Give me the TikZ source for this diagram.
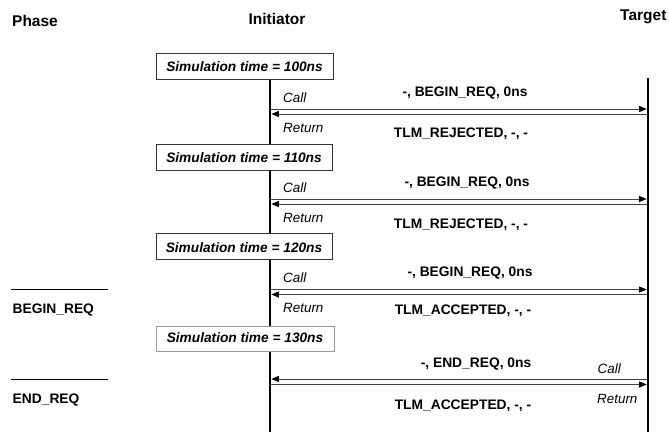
\documentclass[tikz,border=0pt]{standalone}
\usepackage{fontspec}
\setmainfont{Liberation Sans}
\usetikzlibrary{arrows.meta}
\begin{document}
\begin{tikzpicture}[x=1pt,y=-1pt,
  head/.style={font=\bfseries\fontsize{15.5}{18}\selectfont, inner sep=0pt, anchor=base},
  lbl/.style={font=\bfseries\fontsize{13.8}{16}\selectfont, inner sep=0pt, anchor=base},
  io/.style={font=\itshape\fontsize{13.4}{16}\selectfont, inner sep=0pt, anchor=base west},
  simbox/.style={draw=black!80, line width=0.8pt, fill=white},
  simtext/.style={font=\bfseries\itshape\fontsize{13.7}{16}\selectfont, inner sep=0pt, anchor=base},
  life/.style={line width=2.5pt},
  msg/.style={draw=black!75, line width=0.9pt, -{Triangle[length=7.5pt,width=6pt,color=black]}},
  phaseline/.style={line width=0.8pt}]
\useasboundingbox (0,0) rectangle (669,432);

% column headings
\node[head] (phase) at (35,26) {Phase};
\node[head] (init) at (277,24) {Initiator};
\node[head, anchor=base west] (targ) at (620,20) {Target};

% lifelines
\coordinate (iTop) at (270,79);
\coordinate (iBot) at (270,432);
\coordinate (tTop) at (648,78);
\coordinate (tBot) at (648,432);
\draw[life] (iTop) -- (iBot);
\draw[life] (tTop) -- (tBot);

% simulation time boxes
\draw[simbox] (156,53) rectangle (333,79);
\node[simtext] (s100) at (244.5,71) {Simulation time = 100ns};
\draw[simbox] (156,144) rectangle (332,170);
\node[simtext] (s110) at (244,162) {Simulation time = 110ns};
\draw[simbox] (156,233.5) rectangle (332,259.5);
\node[simtext] (s120) at (244,252) {Simulation time = 120ns};
\draw[simbox, draw=black!40] (156,326) rectangle (334,351);
\node[simtext] (s130) at (245,342.5) {Simulation time = 130ns};

% message end points on the lifelines
\foreach \n/\y in {c1/109, r1/114, c2/199, r2/204, c3/289.5, r3/294.5, r4/379, c4/384.5} {
  \coordinate (i\n) at (271.3,\y);
  \coordinate (t\n) at (646.7,\y);
}

% 100ns: rejected
\draw[msg] (ic1) -- (tc1);
\draw[msg] (tr1) -- (ir1);
\node[io] (call1) at (283,102) {Call};
\node[io] (ret1) at (283,132) {Return};
\node[lbl] (m1) at (465,96) {-, BEGIN\_REQ, 0ns};
\node[lbl] (a1) at (461,137) {TLM\_REJECTED, -, -};

% 110ns: rejected
\draw[msg] (ic2) -- (tc2);
\draw[msg] (tr2) -- (ir2);
\node[io] (call2) at (283,192.5) {Call};
\node[io] (ret2) at (283,222) {Return};
\node[lbl] (m2) at (467,186) {-, BEGIN\_REQ, 0ns};
\node[lbl] (a2) at (461,228) {TLM\_REJECTED, -, -};

% 120ns: accepted
\draw[msg] (ic3) -- (tc3);
\draw[msg] (tr3) -- (ir3);
\node[io] (call3) at (283,282.5) {Call};
\node[io] (ret3) at (283,312.7) {Return};
\node[lbl] (m3) at (470,276) {-, BEGIN\_REQ, 0ns};
\node[lbl] (a3) at (463,314) {TLM\_ACCEPTED, -, -};

% 130ns: backward path from target
\draw[msg] (tr4) -- (ir4);
\draw[msg] (ic4) -- (tc4);
\node[io] (call4) at (597.5,373) {Call};
\node[io] (ret4) at (597,403) {Return};
\node[lbl] (m4) at (476,367) {-, END\_REQ, 0ns};
\node[lbl] (a4) at (463,409) {TLM\_ACCEPTED, -, -};

% phase markers
\coordinate (p1a) at (11,289); \coordinate (p1b) at (108,289);
\coordinate (p2a) at (11,379); \coordinate (p2b) at (108,379);
\draw[phaseline] (p1a) -- (p1b);
\draw[phaseline] (p2a) -- (p2b);
\node[lbl, anchor=base west] (ph1) at (12.5,313) {BEGIN\_REQ};
\node[lbl, anchor=base west] (ph2) at (12.5,403) {END\_REQ};
\end{tikzpicture}
\end{document}
